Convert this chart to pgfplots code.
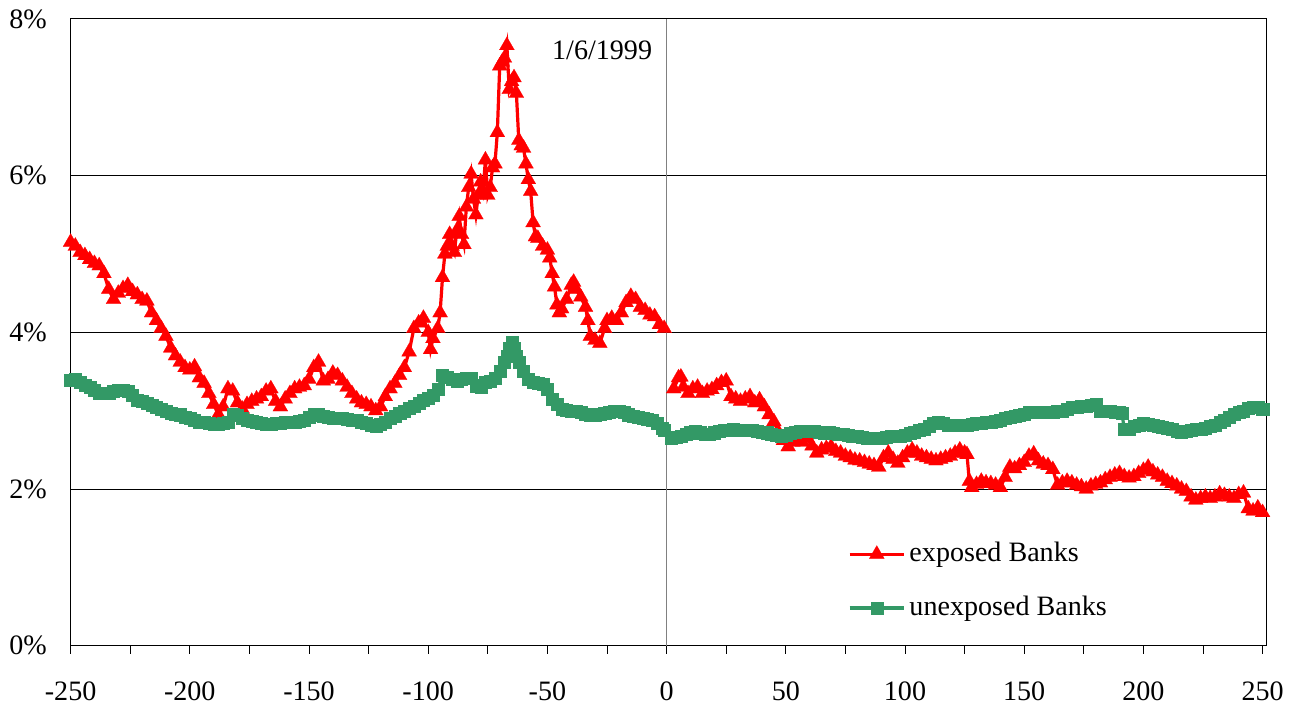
\documentclass[border=0pt]{standalone}
\usepackage{pgfplots}
\pgfplotsset{compat=1.18}
\usepackage{fontspec}
\setmainfont{Liberation Serif}
\definecolor{exgreen}{RGB}{51,153,102}
\begin{document}
\fontsize{14}{16}\selectfont
\begin{tikzpicture}
\begin{axis}[
  scale only axis,
  width=596pt, height=312.5pt,
  xmin=-250, xmax=251.5, ymin=0, ymax=8,
  xtick={-250,-200,...,250},
  minor xtick={-225,-175,...,225},
  xtick pos=bottom,
  tick align=outside,
  major tick length=4pt, minor tick length=4pt,
  every tick/.style={black, thin},
  ytick={0,2,4,6,8},
  ytick style={draw=none},
  ymajorgrids,
  major grid style={black, thin},
  yticklabel={\pgfmathprintnumber{\tick}\%},
  /pgf/number format/assume math mode=true,
  ticklabel style={font=\fontsize{14}{16}\selectfont},
  yticklabel style={xshift=-3pt},
  xticklabel style={yshift=-9pt},
  axis line style={black, thin},
  legend style={draw=none, fill=none, at={(0.65,0.172)}, anchor=north west,
    font=\fontsize{14}{16}\selectfont, row sep=11pt, inner sep=0pt},
  legend cell align=left,
  legend image code/.code={
    \draw[#1, mark repeat=2, mark phase=2] plot coordinates {(0pt,0pt) (13.5pt,0pt) (27pt,0pt)};
  },
]
\addplot[gray, thin, forget plot] coordinates {(0,0) (0,8)};

% exposed banks, before event
\addplot[red, line width=1.6pt, mark=triangle*, mark size=4.3pt, mark options={solid, fill=red, draw=red, line width=0.1pt}] coordinates {
(-250,5.15) (-248,5.10) (-246,5.02) (-244,4.98) (-242,4.93) (-240,4.88) (-238,4.85) (-236,4.75)
(-234,4.55) (-232,4.42) (-230,4.50) (-228,4.56) (-226,4.60) (-224,4.52) (-222,4.48) (-220,4.42)
(-218,4.40) (-216,4.25) (-214,4.15) (-212,4.05) (-210,3.95) (-208,3.80) (-206,3.70) (-204,3.62)
(-202,3.55) (-200,3.52) (-198,3.56) (-196,3.42) (-194,3.35) (-192,3.22) (-190,3.08) (-188,2.95)
(-186,3.05) (-184,3.28) (-182,3.25) (-180,3.10) (-178,3.02) (-176,3.08) (-174,3.12) (-172,3.15)
(-170,3.18) (-168,3.25) (-166,3.28) (-164,3.12) (-162,3.05) (-160,3.15) (-158,3.22) (-156,3.28)
(-154,3.30) (-152,3.32) (-150,3.40) (-148,3.55) (-146,3.62) (-144,3.38) (-142,3.40) (-140,3.48)
(-138,3.45) (-136,3.38) (-134,3.30) (-132,3.22) (-130,3.15) (-128,3.10) (-126,3.08) (-124,3.05)
(-122,3.00) (-120,3.05) (-118,3.18) (-116,3.28) (-114,3.35) (-112,3.45) (-110,3.55) (-108,3.75)
(-106,4.05) (-104,4.12) (-102,4.18) (-100,4.00) (-99,3.78) (-98,3.92) (-96,4.05) (-95,4.25)
(-94,4.70) (-93,5.00) (-92,5.10) (-91,5.25) (-90,5.10) (-89,5.02) (-88,5.30) (-87,5.48)
(-86,5.25) (-85,5.12) (-84,5.60) (-83,5.85) (-82,6.02) (-81,5.70) (-80,5.50) (-79,5.75)
(-78,5.92) (-77,5.80) (-76,6.20) (-75,5.75) (-74,5.85) (-73,6.10) (-72,6.15) (-71,6.55)
(-70,7.40) (-69,7.45) (-68,7.50) (-67,7.66) (-66,7.10) (-65,7.20) (-64,7.25) (-63,7.05)
(-62,6.45) (-61,6.38) (-60,6.35) (-59,6.15) (-58,5.95) (-57,5.80) (-56,5.40) (-55,5.22)
(-54,5.20) (-52,5.10) (-50,5.05) (-49,4.95) (-48,4.75) (-47,4.58) (-46,4.35) (-45,4.25)
(-44,4.30) (-42,4.42) (-40,4.60) (-39,4.64) (-38,4.55) (-36,4.45) (-34,4.32) (-33,4.15)
(-32,3.95) (-30,3.90) (-28,3.86) (-26,4.05) (-25,4.15) (-23,4.18) (-21,4.15) (-19,4.25)
(-17,4.38) (-15,4.46) (-13,4.42) (-11,4.32) (-9,4.28) (-7,4.22) (-5,4.20) (-3,4.10) (-1,4.05)
};
\addlegendentry{exposed Banks}

% unexposed banks, before event
\addplot[exgreen, line width=1.6pt, mark=square*, mark size=3pt, mark options={solid, fill=exgreen, draw=exgreen, line width=0.1pt}] coordinates {
(-250,3.39) (-248,3.40) (-246,3.37) (-244,3.33) (-242,3.30) (-240,3.26) (-238,3.23) (-236,3.22)
(-234,3.23) (-232,3.25) (-230,3.26) (-228,3.26) (-226,3.25) (-224,3.20) (-222,3.14) (-220,3.12)
(-218,3.10) (-216,3.07) (-214,3.04) (-212,3.02) (-210,3.00) (-208,2.97) (-206,2.96) (-204,2.95)
(-202,2.92) (-200,2.90) (-198,2.88) (-196,2.86) (-194,2.85) (-192,2.84) (-190,2.83) (-188,2.83)
(-186,2.84) (-184,2.86) (-182,2.96) (-180,2.94) (-178,2.90) (-176,2.88) (-174,2.87) (-172,2.85)
(-170,2.84) (-168,2.83) (-166,2.83) (-164,2.84) (-162,2.84) (-160,2.85) (-158,2.86) (-156,2.86)
(-154,2.87) (-152,2.88) (-150,2.92) (-148,2.96) (-146,2.95) (-144,2.93) (-142,2.92) (-140,2.91)
(-138,2.90) (-136,2.90) (-134,2.89) (-132,2.88) (-130,2.88) (-128,2.86) (-126,2.84) (-124,2.82)
(-122,2.80) (-120,2.83) (-118,2.86) (-116,2.90) (-114,2.93) (-112,2.97) (-110,3.00) (-108,3.03)
(-106,3.06) (-104,3.10) (-102,3.13) (-100,3.16) (-98,3.20) (-96,3.28) (-94,3.45) (-92,3.43)
(-90,3.40) (-88,3.38) (-86,3.40) (-84,3.42) (-82,3.42) (-80,3.32) (-78,3.30) (-76,3.36)
(-74,3.38) (-72,3.42) (-70,3.50) (-68,3.62) (-67,3.70) (-66,3.80) (-65,3.87) (-64,3.80)
(-63,3.70) (-62,3.62) (-60,3.50) (-58,3.40) (-56,3.36) (-54,3.35) (-52,3.34) (-50,3.28)
(-48,3.15) (-46,3.08) (-44,3.02) (-42,3.01) (-40,3.00) (-38,3.00) (-36,2.98) (-34,2.96)
(-32,2.95) (-30,2.94) (-28,2.96) (-26,2.97) (-24,2.98) (-22,2.99) (-20,3.00) (-18,2.98)
(-16,2.95) (-14,2.93) (-12,2.92) (-10,2.90) (-8,2.89) (-6,2.88) (-4,2.84) (-2,2.78) (-1,2.75)
};
\addlegendentry{unexposed Banks}

% exposed banks, after event
\addplot[red, line width=1.6pt, mark=triangle*, mark size=4.3pt, mark options={solid, fill=red, draw=red, line width=0.1pt}, forget plot] coordinates {
(3,3.28) (5,3.42) (6,3.43) (7,3.30) (9,3.22) (11,3.28) (13,3.30) (15,3.22) (17,3.25) (19,3.27)
(21,3.32) (23,3.36) (25,3.38) (27,3.18) (29,3.15) (31,3.12) (33,3.15) (35,3.18) (37,3.10) (39,3.14)
(41,3.05) (43,2.95) (45,2.86) (47,2.72) (49,2.62) (51,2.54) (53,2.60) (55,2.62) (57,2.60) (59,2.65)
(61,2.55) (63,2.46) (65,2.50) (67,2.52) (69,2.54) (71,2.48) (73,2.46) (75,2.42) (77,2.40) (79,2.37)
(81,2.36) (83,2.34) (85,2.32) (87,2.30) (89,2.28) (91,2.40) (93,2.46) (95,2.38) (97,2.33) (99,2.40)
(101,2.46) (103,2.50) (105,2.46) (107,2.42) (109,2.40) (111,2.38) (113,2.36) (115,2.38) (117,2.40) (119,2.42)
(121,2.46) (123,2.50) (125,2.46) (126,2.44) (127,2.10) (128,2.02) (130,2.06) (132,2.10) (134,2.08) (136,2.07)
(138,2.05) (140,2.02) (142,2.15) (144,2.28) (146,2.26) (148,2.30) (150,2.34) (152,2.42) (154,2.45) (156,2.36)
(158,2.32) (160,2.30) (162,2.25) (164,2.05) (166,2.08) (168,2.10) (170,2.08) (172,2.05) (174,2.03) (176,2.00)
(178,2.04) (180,2.06) (182,2.08) (184,2.12) (186,2.15) (188,2.18) (190,2.20) (192,2.16) (194,2.14) (196,2.16)
(198,2.20) (200,2.24) (202,2.28) (204,2.22) (206,2.18) (208,2.15) (210,2.10) (212,2.07) (214,2.04) (216,2.00)
(218,1.97) (220,1.90) (222,1.86) (224,1.88) (226,1.90) (228,1.88) (230,1.90) (232,1.94) (234,1.92) (236,1.90)
(238,1.88) (240,1.93) (242,1.95) (244,1.75) (246,1.72) (248,1.76) (250,1.70)
};

% unexposed banks, after event
\addplot[exgreen, line width=1.6pt, mark=square*, mark size=3pt, mark options={solid, fill=exgreen, draw=exgreen, line width=0.1pt}, forget plot] coordinates {
(2,2.65) (4,2.66) (6,2.68) (8,2.70) (10,2.72) (12,2.74) (14,2.72) (16,2.70) (18,2.70) (20,2.72)
(22,2.74) (24,2.75) (26,2.75) (28,2.76) (30,2.75) (32,2.75) (34,2.75) (36,2.75) (38,2.74) (40,2.73)
(42,2.72) (44,2.70) (46,2.69) (48,2.68) (50,2.69) (52,2.71) (54,2.73) (56,2.74) (58,2.74) (60,2.74)
(62,2.74) (64,2.73) (66,2.72) (68,2.72) (70,2.71) (72,2.70) (74,2.70) (76,2.69) (78,2.68) (80,2.67)
(82,2.66) (84,2.65) (86,2.65) (88,2.65) (90,2.65) (92,2.66) (94,2.67) (96,2.67) (98,2.68) (100,2.69)
(102,2.71) (104,2.73) (106,2.75) (108,2.77) (110,2.80) (112,2.84) (114,2.86) (116,2.84) (118,2.82) (120,2.82)
(122,2.82) (124,2.82) (126,2.82) (128,2.83) (130,2.84) (132,2.84) (134,2.85) (136,2.86) (138,2.87) (140,2.88)
(142,2.90) (144,2.92) (146,2.93) (148,2.94) (150,2.96) (152,2.98) (154,2.98) (156,2.98) (158,2.98) (160,2.98)
(162,2.98) (164,2.99) (166,3.00) (168,3.02) (170,3.04) (172,3.05) (174,3.06) (176,3.06) (178,3.07) (180,3.08)
(182,3.00) (184,2.99) (186,2.99) (188,2.98) (190,2.98) (191,2.97) (192,2.76) (194,2.77) (196,2.80) (198,2.82)
(200,2.84) (202,2.83) (204,2.82) (206,2.80) (208,2.79) (210,2.78) (212,2.76) (214,2.74) (216,2.73) (218,2.74)
(220,2.75) (222,2.76) (224,2.77) (226,2.78) (228,2.80) (230,2.82) (232,2.85) (234,2.88) (236,2.92) (238,2.96)
(240,2.98) (242,3.00) (244,3.03) (246,3.05) (248,3.04) (250,3.02)
};

\node[anchor=east, font=\fontsize{14}{16}\selectfont] at (axis cs:-2,7.6) {1/6/1999};
\end{axis}
\end{tikzpicture}
\end{document}
